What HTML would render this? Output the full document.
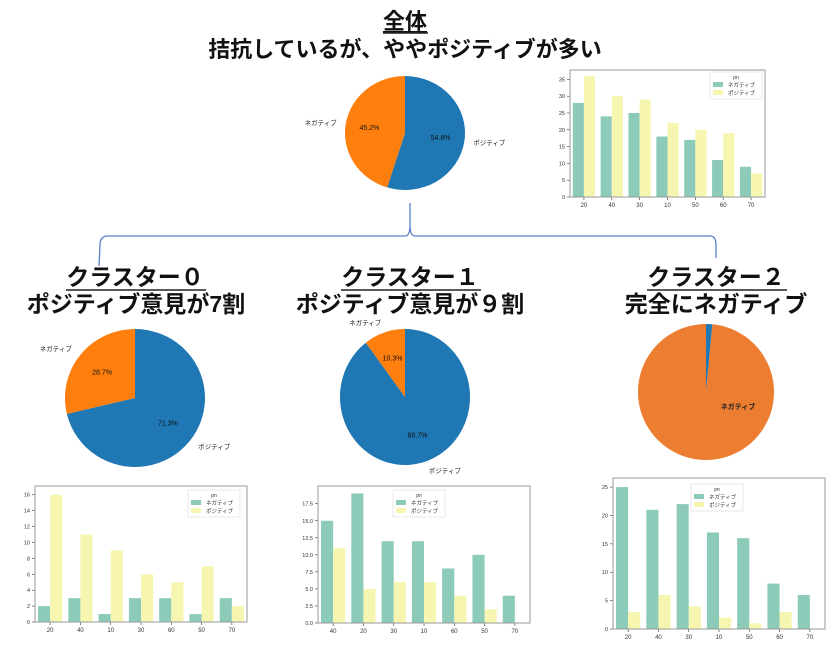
<!DOCTYPE html>
<html><head><meta charset="utf-8"><style>
body{margin:0;width:840px;height:650px;background:#fff;overflow:hidden;font-family:"Liberation Sans","Noto Sans CJK JP",sans-serif;}
svg{position:absolute;left:0;top:0}
.t{font-family:"Liberation Sans","Noto Sans CJK JP",sans-serif;font-weight:700;fill:#111}
</style></head><body>
<svg id="s" width="840" height="650">
<g>
<text class="t" x="405" y="29" font-size="22" text-anchor="middle" text-decoration="underline">全体</text>
<line x1="383" y1="33" x2="428" y2="33" stroke="#222" stroke-width="1.5"/>
<text class="t" x="405" y="57" font-size="22" text-anchor="middle">拮抗しているが、ややポジティブが多い</text>
</g>
<g>
<text class="t" x="135" y="285" font-size="23" text-anchor="middle">クラスター０</text>
<line x1="66" y1="290" x2="206" y2="290" stroke="#222" stroke-width="1.5"/>
<text class="t" x="136" y="312" font-size="23" text-anchor="middle">ポジティブ意見が7割</text>
</g>
<g>
<text class="t" x="410" y="285" font-size="23" text-anchor="middle">クラスター１</text>
<line x1="341" y1="290" x2="481" y2="290" stroke="#222" stroke-width="1.5"/>
<text class="t" x="410" y="312" font-size="23" text-anchor="middle">ポジティブ意見が９割</text>
</g>
<g>
<text class="t" x="716" y="285" font-size="23" text-anchor="middle">クラスター２</text>
<line x1="647" y1="290" x2="787" y2="290" stroke="#222" stroke-width="1.5"/>
<text class="t" x="716" y="312" font-size="23" text-anchor="middle">完全にネガティブ</text>
</g>
<path d="M410 203 L410 225 Q410 236 405 236 L108 236 Q100 236 100 245 L99 266 M410 225 Q410 236 415 236 L710 236 Q716 236 716 245 L716 258" fill="none" stroke="#5b7fc7" stroke-width="1.3"/>
</svg>
<script>
const pieLabels=['ポジティブ','ネガティブ'];
const pieTop=[54.8,45.2];
const pieC0=[71.3,28.7];
const pieC1=[89.7,10.3];
const pieC2=[1.5,98.5];

const catTop=['20','40','30','10','50','60','70'];
const negTop=[28,24,25,18,17,11,9];
const posTop=[36,30,29,22,20,19,7];
const ticksTop=[0,5,10,15,20,25,30,35];
const catC0=['20','40','10','30','60','50','70'];
const negC0=[2,3,1,3,3,1,3];
const posC0=[16,11,9,6,5,7,2];
const ticksC0=[0,2,4,6,8,10,12,14,16];
const catC1=['40','20','30','10','60','50','70'];
const negC1=[15,19,12,12,8,10,4];
const posC1=[11,5,6,6,4,2,0];
const ticksC1=['0.0','2.5','5.0','7.5','10.0','12.5','15.0','17.5'];
const catC2=['20','40','30','10','50','60','70'];
const negC2=[25,21,22,17,16,8,6];
const posC2=[3,6,4,2,1,3,0];
const ticksC2=[0,5,10,15,20,25];

const S=document.getElementById('s');
const NS='http://www.w3.org/2000/svg';
function mk(t,a,p){const e=document.createElementNS(NS,t);for(const k in a)e.setAttribute(k,a[k]);(p||S).appendChild(e);return e;}

function pie(name,vals,cx,cy,rx,ry,opt){
  const g=mk('g',{});
  
  
  const tot=vals.reduce((a,b)=>a+b,0);
  const cols=opt.c2?['#1f77b4','#ed7d31']:['#1f77b4','#ff7f0e'];
  let a0=-90;
  vals.forEach((v,i)=>{
    const sweep=v/tot*360,a1=a0+sweep;
    const r=x=>x*Math.PI/180;
    const x0=cx+rx*Math.cos(r(a0)),y0=cy+ry*Math.sin(r(a0));
    const x1=cx+rx*Math.cos(r(a1)),y1=cy+ry*Math.sin(r(a1));
    const p=mk('path',{d:`M${cx} ${cy} L${x0} ${y0} A${rx} ${ry} 0 ${sweep>180?1:0} 1 ${x1} ${y1} Z`,fill:cols[i]},g);
    
    
    const m=r(a0+sweep/2);
    if(opt.pct){
      const t=mk('text',{x:cx+rx*0.6*Math.cos(m),y:cy+ry*0.6*Math.sin(m)+2,'font-size':7,'text-anchor':'middle',fill:'#111'},g);
      t.textContent=v.toFixed(1)+'%';
      
      
    }
    if(opt.labels||(opt.c2&&i==1)){
      const bold=opt.c2&&i==1;
      const f=1.15;
      const lx=bold?cx+32:cx+rx*f*Math.cos(m),ly=bold?cy+17:cy+ry*f*Math.sin(m)+2;
      const t=mk('text',{x:lx,y:ly,'font-size':bold?7:6.5,'font-weight':bold?700:400,'text-anchor':bold?'middle':(Math.cos(m)>0?'start':'end'),fill:'#222'},g);
      t.textContent=pieLabels[i];
      
      
    }
    a0=a1;
  });
}
pie('pie-overall',pieTop,405,133,60,57,{pct:1,labels:1});
pie('pie-cluster0',pieC0,135,398,70,69,{pct:1,labels:1});
pie('pie-cluster1',pieC1,405,397,65,68,{pct:1,labels:1});
pie('pie-cluster2',pieC2,706,392,68,68,{c2:1});

function bars(name,cats,neg,pos,ticks,L,R,T,B,ymax,leg){
  const g=mk('g',{});
  
  
  const n=cats.length,w=(R-L)/n;
  const X=i=>L+w*(i+0.5);
  const Y=v=>B-(v/ymax)*(B-T);
  cats.forEach((c,i)=>{
    const bw=w*0.4;
    const b1=mk('rect',{x:X(i)-bw,y:Y(neg[i]),width:bw,height:B-Y(neg[i]),fill:'#8ccbb9'},g);
    
    
    const b2=mk('rect',{x:X(i),y:Y(pos[i]),width:bw,height:B-Y(pos[i]),fill:'#f7f6b0'},g);
    
    
    mk('line',{x1:X(i),x2:X(i),y1:B,y2:B+3,stroke:'#333','stroke-width':0.6},g);
    const t=mk('text',{x:X(i),y:B+10,'font-size':6,'text-anchor':'middle',fill:'#333'},g);
    t.textContent=c;
    
    
  });
  ticks.forEach(tk=>{
    const v=parseFloat(tk),y=Y(v);
    mk('line',{x1:L-3,x2:L,y1:y,y2:y,stroke:'#333','stroke-width':0.6},g);
    const t=mk('text',{x:L-5,y:y+2,'font-size':5.5,'text-anchor':'end',fill:'#333'},g);
    t.textContent=tk;
    
    
  });
  mk('rect',{x:L,y:T,width:R-L,height:B-T,fill:'none',stroke:'#999','stroke-width':1},g);
  const lg=mk('g',{},g);
  
  
  const [lx,ly]=leg;
  mk('rect',{x:lx,y:ly,width:52,height:27,fill:'#fff',stroke:'#ddd','stroke-width':0.6},lg);
  const tt=mk('text',{x:lx+26,y:ly+7,'font-size':5,'text-anchor':'middle',fill:'#333'},lg);tt.textContent='pn';
  mk('rect',{x:lx+3,y:ly+10,width:10,height:5,fill:'#8ccbb9'},lg);
  mk('rect',{x:lx+3,y:ly+18,width:10,height:5,fill:'#f7f6b0'},lg);
  const a=mk('text',{x:lx+18,y:ly+15,'font-size':5.5,fill:'#333'},lg);a.textContent='ネガティブ';
  const b=mk('text',{x:lx+18,y:ly+23,'font-size':5.5,fill:'#333'},lg);b.textContent='ポジティブ';
}
bars('bar-overall',catTop,negTop,posTop,ticksTop,570,765,70,197,37.8,[710,72]);
bars('bar-cluster0',catC0,negC0,posC0,ticksC0,35,247,486,622,17.1,[188,490]);
bars('bar-cluster1',catC1,negC1,posC1,ticksC1,318,530,486,623,20.1,[393,490]);
bars('bar-cluster2',catC2,negC2,posC2,ticksC2,613,825,478,629,26.6,[691,484]);
</script>
</body></html>
